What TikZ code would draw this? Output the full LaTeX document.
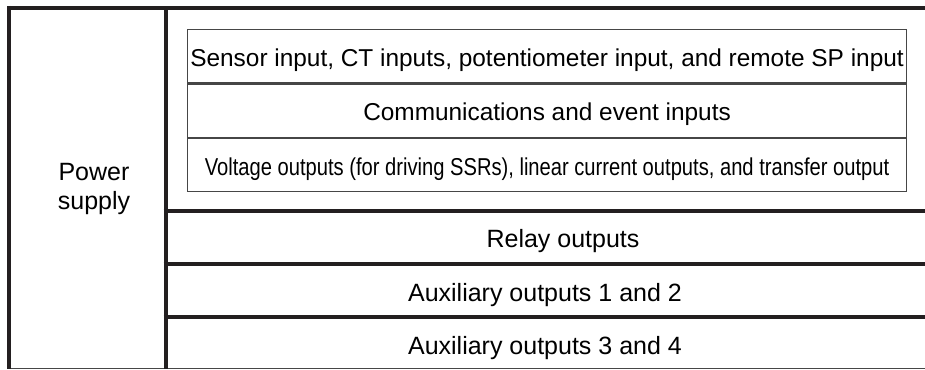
\documentclass[tikz,border=0pt]{standalone}
\usepackage{fontspec}
\setmainfont{Liberation Sans}
\usetikzlibrary{positioning}
\definecolor{ink}{RGB}{35,31,32}
\definecolor{rule}{RGB}{70,70,70}
\tikzset{
  heavy/.style={line width=4pt,draw=ink},
  light/.style={line width=1.1pt,draw=rule},
  cell/.style={draw=rule,line width=1.1pt,minimum width=719pt,minimum height=53.3pt,
    inner sep=0pt,text height=25pt,text depth=5pt,font=\fontsize{24.4}{28}\selectfont},
  row/.style={font=\fontsize{25}{29}\selectfont,inner sep=0pt,anchor=base},
}
\begin{document}
\begin{tikzpicture}[x=1pt,y=-1pt]
  \useasboundingbox (0,0) rectangle (925,369);
  % frame
  \draw[light] (7,368.3) -- (925,368.3);
  \draw[heavy] (9,6) -- (9,369);
  \draw[heavy] (165.5,8) -- (165.5,369);
  \draw[heavy] (7,8) -- (925,8);
  \foreach \y in {210.5,263.5,316.5} \draw[heavy] (163.5,\y) -- (925,\y);
  % power supply
  \node[row,align=center,anchor=center] (power) at (94,189) {Power\\supply};
  % inputs box
  \node[cell,anchor=north west] (sensor) at (187,29) {Sensor input, CT inputs, potentiometer input, and remote SP input};
  \node[cell,below=0pt of sensor] (comm) {Communications and event inputs};
  \node[cell,below=0pt of comm] (volt) {\scalebox{0.826}[1]{Voltage outputs (for driving SSRs), linear current outputs, and transfer output}};
  % output rows
  \node[row] (relay) at (563,247) {Relay outputs};
  \node[row] (aux12) at (545,301) {Auxiliary outputs 1 and 2};
  \node[row] (aux34) at (545,354.5) {Auxiliary outputs 3 and 4};
\end{tikzpicture}
\end{document}
